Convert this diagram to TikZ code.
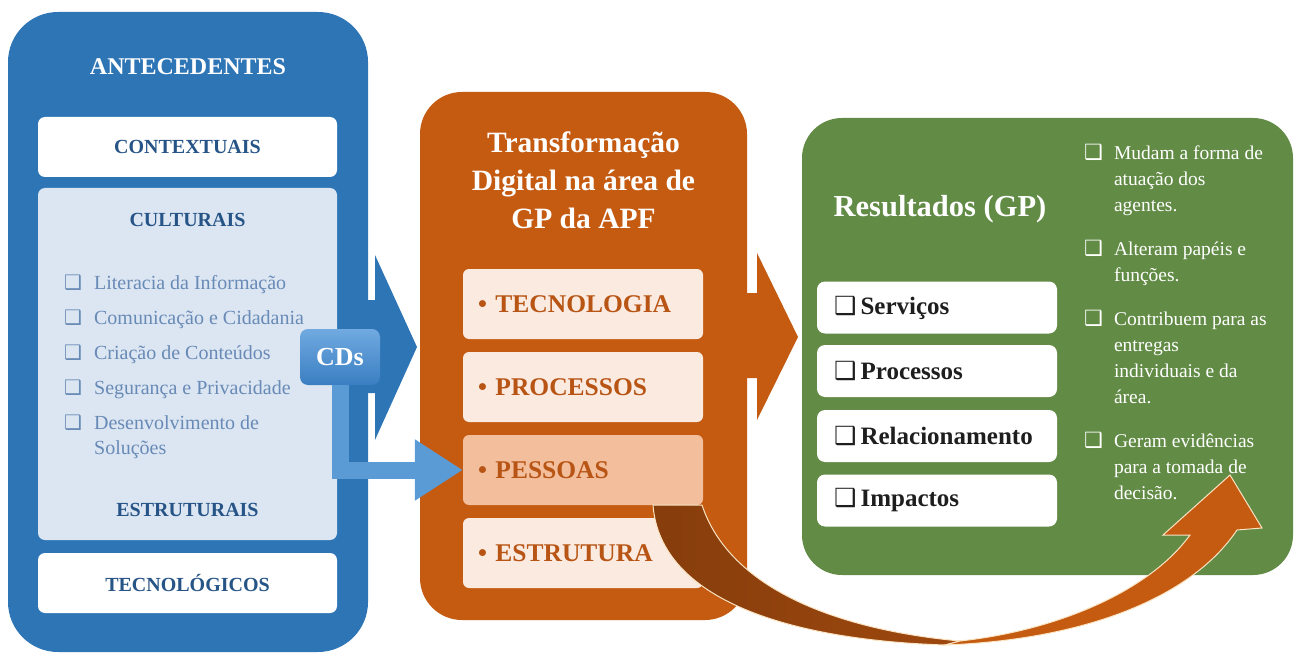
\documentclass[tikz,border=0pt]{standalone}
\usepackage{fontspec}
\setmainfont{Liberation Serif}
\newfontfamily\symfont{DejaVu Sans}
\usetikzlibrary{arrows.meta}

\definecolor{panelblue}{RGB}{46,117,182}
\definecolor{paleblue}{RGB}{220,230,242}
\definecolor{headblue}{RGB}{38,84,135}
\definecolor{listblue}{RGB}{104,138,182}
\definecolor{cdblue}{RGB}{91,155,213}
\definecolor{panelorange}{RGB}{197,90,17}
\definecolor{paleorange}{RGB}{250,234,224}
\definecolor{peach}{RGB}{242,190,156}
\definecolor{textorange}{RGB}{184,84,20}
\definecolor{arrowbrown}{RGB}{158,72,14}
\definecolor{panelgreen}{RGB}{98,139,70}
\definecolor{resblack}{RGB}{30,30,30}
\definecolor{rimcream}{RGB}{250,228,195}

\newcommand{\chk}[1]{{\symfont\mdseries\fontsize{#1}{#1}\selectfont ❑}}

\tikzset{
  panel/.style={inner sep=0pt, rounded corners=45pt},
  whitebox/.style={fill=white, rounded corners=7pt, minimum width=299pt, minimum height=60pt,
    text=headblue, font=\bfseries\fontsize{20}{24}\selectfont},
  headtext/.style={text=headblue, font=\bfseries\fontsize{20}{24}\selectfont},
  tdbox/.style={fill=paleorange, rounded corners=6pt, minimum width=240pt, minimum height=70pt,
    text width=210pt, align=left, text=textorange, font=\bfseries\fontsize{25.5}{30}\selectfont},
  resbox/.style={fill=white, rounded corners=8pt, minimum width=240pt, minimum height=52pt,
    text width=206pt, align=left, text=resblack, font=\bfseries\fontsize{25}{30}\selectfont},
  cdsbox/.style={top color={rgb,255:red,112;green,170;blue,224}, bottom color={rgb,255:red,58;green,126;blue,194},
    rounded corners=8pt, minimum width=80pt, minimum height=56pt, text=white,
    font=\bfseries\fontsize{26}{30}\selectfont},
  cdline/.style={draw=cdblue, line width=17pt, -{Triangle[length=48pt,width=58pt]}},
  rim/.style={draw=rimcream, line width=1pt}
}

\begin{document}
\begin{tikzpicture}[x=1pt,y=-1pt]
  \useasboundingbox (0,0) rectangle (1294,658);

  % three panels
  \node[panel, fill=panelblue, minimum width=360pt, minimum height=640pt, rounded corners=50pt] (antecedentes) at (188,332) {};
  \node[panel, fill=panelorange, minimum width=327pt, minimum height=528pt, rounded corners=42pt] (transformacao) at (583.5,356) {};
  \node[panel, fill=panelgreen, minimum width=491pt, minimum height=457pt, rounded corners=40pt] (resultados) at (1047.5,346.5) {};

  % block arrows between the panels
  \fill[panelblue] (360,300) -- (375,300) -- (375,255) -- (417,347) -- (375,440) -- (375,393) -- (360,393) -- cycle;
  \fill[panelorange] (740,293) -- (757,293) -- (757,253) -- (798,337) -- (757,420) -- (757,378) -- (740,378) -- cycle;

  % antecedentes
  \node[text=white, font=\bfseries\fontsize{24}{28}\selectfont] (antetitle) at (188,67) {ANTECEDENTES};
  \node[whitebox] (contextuais) at (187.5,147) {CONTEXTUAIS};
  \node[fill=paleblue, rounded corners=7pt, minimum width=299pt, minimum height=352pt] (cultbg) at (187.5,364) {};
  \node[headtext] (culturais) at (187.5,220) {CULTURAIS};
  \node[headtext] (estruturais) at (187.5,510) {ESTRUTURAIS};
  \node[whitebox] (tecnologicos) at (187.5,583) {TECNOLÓGICOS};
  \node[anchor=base west, inner sep=0pt, text=listblue, font=\fontsize{20}{25}\selectfont] (cultlist) at (64,289)
    {\begin{tabular}[t]{@{}l@{\hspace{12pt}}l@{}}
      \chk{20} & Literacia da Informação\\[10pt]
      \chk{20} & Comunicação e Cidadania\\[10pt]
      \chk{20} & Criação de Conteúdos\\[10pt]
      \chk{20} & Segurança e Privacidade\\[10pt]
      \chk{20} & Desenvolvimento de\\
               & Soluções
    \end{tabular}};

  % transformacao digital
  \node[align=center, text=white, font=\bfseries\fontsize{29.5}{38}\selectfont] (tdtitle) at (583.5,180)
    {Transformação\\Digital na área de\\GP da APF};
  \node[tdbox] (tecnologia) at (583,304) {• TECNOLOGIA};
  \node[tdbox] (processos) at (583,387) {• PROCESSOS};
  \node[tdbox, fill=peach] (pessoas) at (583,470) {• PESSOAS};
  \node[tdbox] (estrutura) at (583,553) {• ESTRUTURA};

  % resultados
  \node[text=white, font=\bfseries\fontsize{30.5}{36}\selectfont] (restitle) at (940,209) {Resultados (GP)};
  \node[resbox] (rservicos) at (937,307.5) {\chk{25}\,Serviços};
  \node[resbox] (rprocessos) at (937,371) {\chk{25}\,Processos};
  \node[resbox] (rrelacionamento) at (937,436) {\chk{25}\,Relacionamento};
  \node[resbox] (rimpactos) at (937,500.5) {\chk{25}\,Impactos};
  \node[anchor=base west, inner sep=0pt, text=white, font=\fontsize{19.5}{26}\selectfont] (reslist) at (1084,160)
    {\begin{tabular}[t]{@{}l@{\hspace{11pt}}l@{}}
      \chk{21} & Mudam a forma de\\
               & atuação dos\\
               & agentes.\\[18pt]
      \chk{21} & Alteram papéis e\\
               & funções.\\[18pt]
      \chk{21} & Contribuem para as\\
               & entregas\\
               & individuais e da\\
               & área.\\[18pt]
      \chk{21} & Geram evidências\\
               & para a tomada de\\
               & decisão.
    \end{tabular}};

  % CDs feeding into pessoas
  \node[cdsbox] (cds) at (340,357) {CDs};
  \draw[cdline] (cds.south) |- (pessoas.west);

  % curved arrow from pessoas round to the results
  \shadedraw[rim, left color=arrowbrown!85!black, right color=arrowbrown]
    (653,505) .. controls (660,600) and (790,640) .. (945,645) -- (960,641)
    .. controls (840,630) and (730,590) .. (702,505) -- cycle;
  \filldraw[rim, fill=panelorange]
    (945,645) .. controls (1080,640) and (1190,600) .. (1237,530) -- (1262,528) -- (1230,475)
    -- (1163,535) -- (1190,535) .. controls (1150,590) and (1060,630) .. (960,641) -- cycle;
\end{tikzpicture}
\end{document}
